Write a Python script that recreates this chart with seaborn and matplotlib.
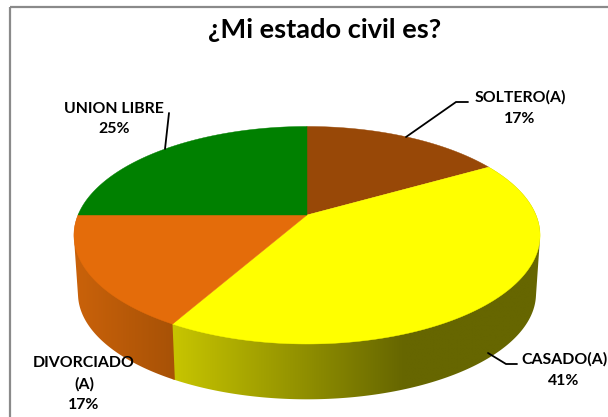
import numpy as np
import matplotlib
matplotlib.use("Agg")
import matplotlib.pyplot as plt
from matplotlib.colors import ListedColormap
from matplotlib.patches import Polygon, Rectangle
import seaborn as sns

# ---- data ----
title = "¿Mi estado civil es?"
categories = ["SOLTERO(A)", "CASADO(A)", "DIVORCIADO\n(A)", "UNION LIBRE"]
values = [16.7, 41.49, 16.81, 25.0]

# ---- style ----
sns.set_theme(style="white")
plt.rcParams["font.family"] = ["Lato", "DejaVu Sans"]
top_colors = sns.color_palette(["#984807", "#FFFF00", "#E46C0A", "#008000"])
side_stops = {1: ("#C6C400", "#666600", 175, 404),
              2: ("#C8610A", "#A85206", 80, 172)}
GRAD_N = 256

fig = plt.figure(figsize=(6.08, 4.17), dpi=100, facecolor="white")
ax = fig.add_axes([0, 0, 1, 1])

ax.add_patch(Rectangle((10, 7), 640, 460, fill=False, ec="#8A8A8A", lw=1.6, zorder=0))

CX, K = 307.0, 0.186


def ring(theta, a, b, cy):
    """Perspective projection of a disc rim; theta runs clockwise from 12 o'clock."""
    u, v = np.sin(theta), np.cos(theta)
    d = 1 + K * v
    return CX + a * u / d, cy - b * v / d


def convex_hull(points):
    pts = sorted(map(tuple, points))

    def half(seq):
        out = []
        for p in seq:
            while len(out) >= 2 and ((out[-1][0] - out[-2][0]) * (p[1] - out[-2][1])
                                     - (out[-1][1] - out[-2][1]) * (p[0] - out[-2][0])) <= 0:
                out.pop()
            out.append(p)
        return out[:-1]

    return np.array(half(pts) + half(pts[::-1]))


TOP = (229.0, 105.0, 215.0)
BOT = (225.0, 102.0, 274.0)

fractions = np.asarray(values) / np.sum(values)
edges = np.concatenate([[0], np.cumsum(fractions)]) * 2 * np.pi

# side wall: a horizontal gradient clipped to each slice's wall
for i, (t0, t1) in enumerate(zip(edges[:-1], edges[1:])):
    if i not in side_stops:
        continue
    c0, c1, x0, x1 = side_stops[i]
    th = np.linspace(t0, t1 + 0.012, 300)
    xt, yt = ring(th, *TOP)
    xb, yb = ring(th, *BOT)
    hull = convex_hull(np.vstack([np.column_stack([xt, yt]), np.column_stack([xb, yb])]))
    wall = Polygon(hull, closed=True, fc="none", ec="none", transform=ax.transData)
    ax.add_patch(wall)
    xs = np.linspace(xt.min() - 8, xt.max() + 8, GRAD_N)
    ramp = np.clip((xs - x0) / (x1 - x0), 0, 1)[None, :]
    cmap = ListedColormap(sns.blend_palette([c0, c1], GRAD_N))
    im = ax.imshow(ramp, cmap=cmap, vmin=0, vmax=1, aspect="auto",
                   extent=(xs[0], xs[-1], yb.max() + 5, yt.min() - 5),
                   interpolation="bilinear", zorder=1 + 0.1 * i)
    im.set_clip_path(wall)

# top face
for i, (t0, t1) in enumerate(zip(edges[:-1], edges[1:])):
    th = np.linspace(t0, t1, 200)
    x, y = ring(th, *TOP)
    pts = np.vstack([[CX, TOP[2]], np.column_stack([x, y])])
    ax.add_patch(Polygon(pts, closed=True, fc=top_colors[i], ec=top_colors[i], lw=0.3, zorder=2))

# leader lines
leaders = [
    ([406, 456, 468], [137, 102, 102]),
    ([488, 506, 517], [353, 364, 364]),
    ([165, 169], [149, 113]),
]
for lx, ly in leaders:
    ax.plot(lx, ly, color="black", lw=1.3, zorder=3, solid_joinstyle="miter")

# labels
label_pos = [(520, 108), (564, 370), (84, 384), (114, 119)]
for name, val, (lx, ly) in zip(categories, values, label_pos):
    ax.text(lx, ly, f"{name}\n{round(val)}%", ha="center", va="center",
            fontsize=11.4, fontweight="bold", color="black", linespacing=1.6, zorder=4)

ax.text(325, 30, title, ha="center", va="center", fontsize=19.6,
        fontweight="bold", color="black")

ax.set_xlim(0, 608)
ax.set_ylim(417, 0)
ax.axis("off")

fig.savefig("out.png", dpi=100)
